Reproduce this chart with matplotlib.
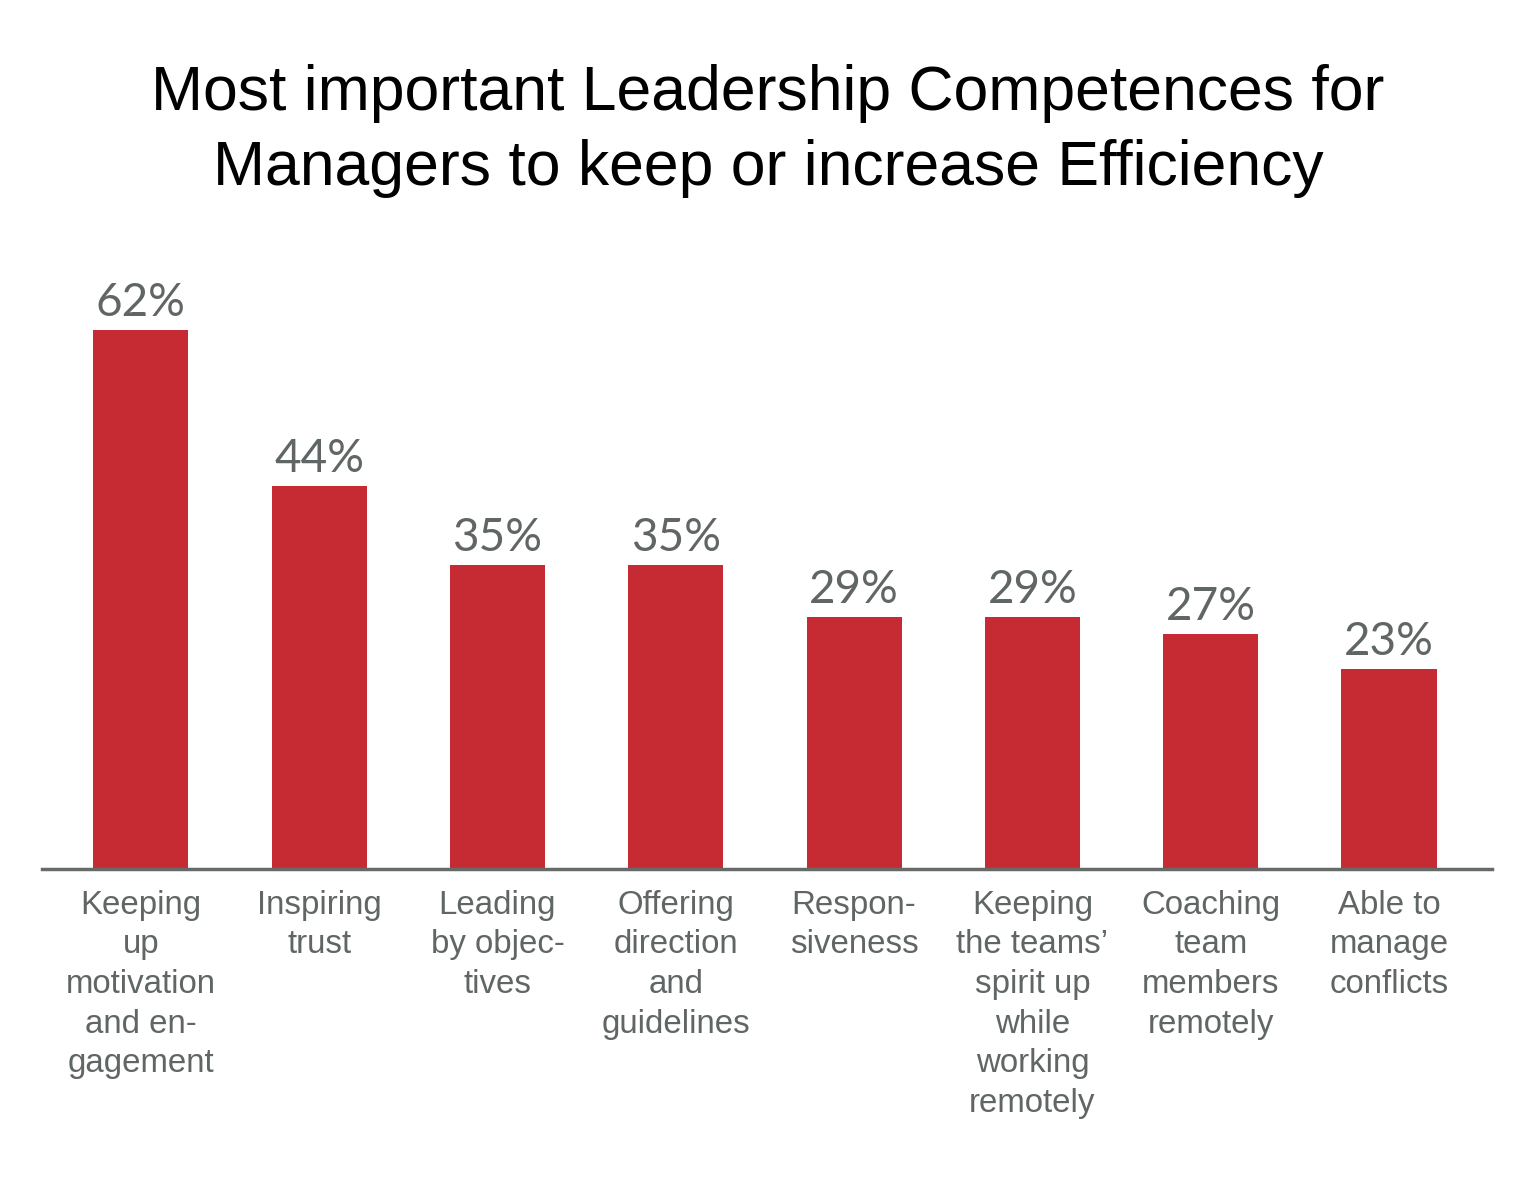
import matplotlib
matplotlib.use("Agg")
import matplotlib.pyplot as plt
import numpy as np

categories = [
    "Keeping\nup\nmotivation\nand en-\ngagement",
    "Inspiring\ntrust",
    "Leading\nby objec-\ntives",
    "Offering\ndirection\nand\nguidelines",
    "Respon-\nsiveness",
    "Keeping\nthe teams’\nspirit up\nwhile\nworking\nremotely",
    "Coaching\nteam\nmembers\nremotely",
    "Able to\nmanage\nconflicts",
]
values = [62, 44, 35, 35, 29, 29, 27, 23]
title = "Most important Leadership Competences for\nManagers to keep or increase Efficiency"

BAR_COLOR = "#c62a33"
TEXT_GRAY = "#5f6665"
LINE_GRAY = "#666b6a"

fig = plt.figure(figsize=(15.36, 11.82), dpi=100)
ax = fig.add_axes([0.0273, 0.2648, 0.9441, 0.5237])

x = np.arange(len(values))
ax.bar(x, values, width=0.533, color=BAR_COLOR)

for xi, v in zip(x, values):
    ax.text(xi, v + 0.7, f"{v}%", ha="center", va="bottom",
            fontsize=33, color=TEXT_GRAY, family="Lato")

ax.set_xlim(-0.555, 7.578)
ax.set_ylim(0, 71.2)

for side in ("top", "right", "left"):
    ax.spines[side].set_visible(False)
ax.spines["bottom"].set_color(LINE_GRAY)
ax.spines["bottom"].set_linewidth(2.5)
ax.set_yticks([])
ax.set_xticks(x)
ax.set_xticklabels(categories, fontsize=23.8, color=TEXT_GRAY,
                   family="Liberation Sans", linespacing=1.36)
ax.tick_params(axis="x", length=0, pad=15)

fig.text(0.5, 1 - 131 / 1182, title, ha="center", va="center",
         fontsize=45, family="Liberation Sans", color="black", linespacing=1.33)

fig.savefig("out.png", dpi=100, facecolor="white")
